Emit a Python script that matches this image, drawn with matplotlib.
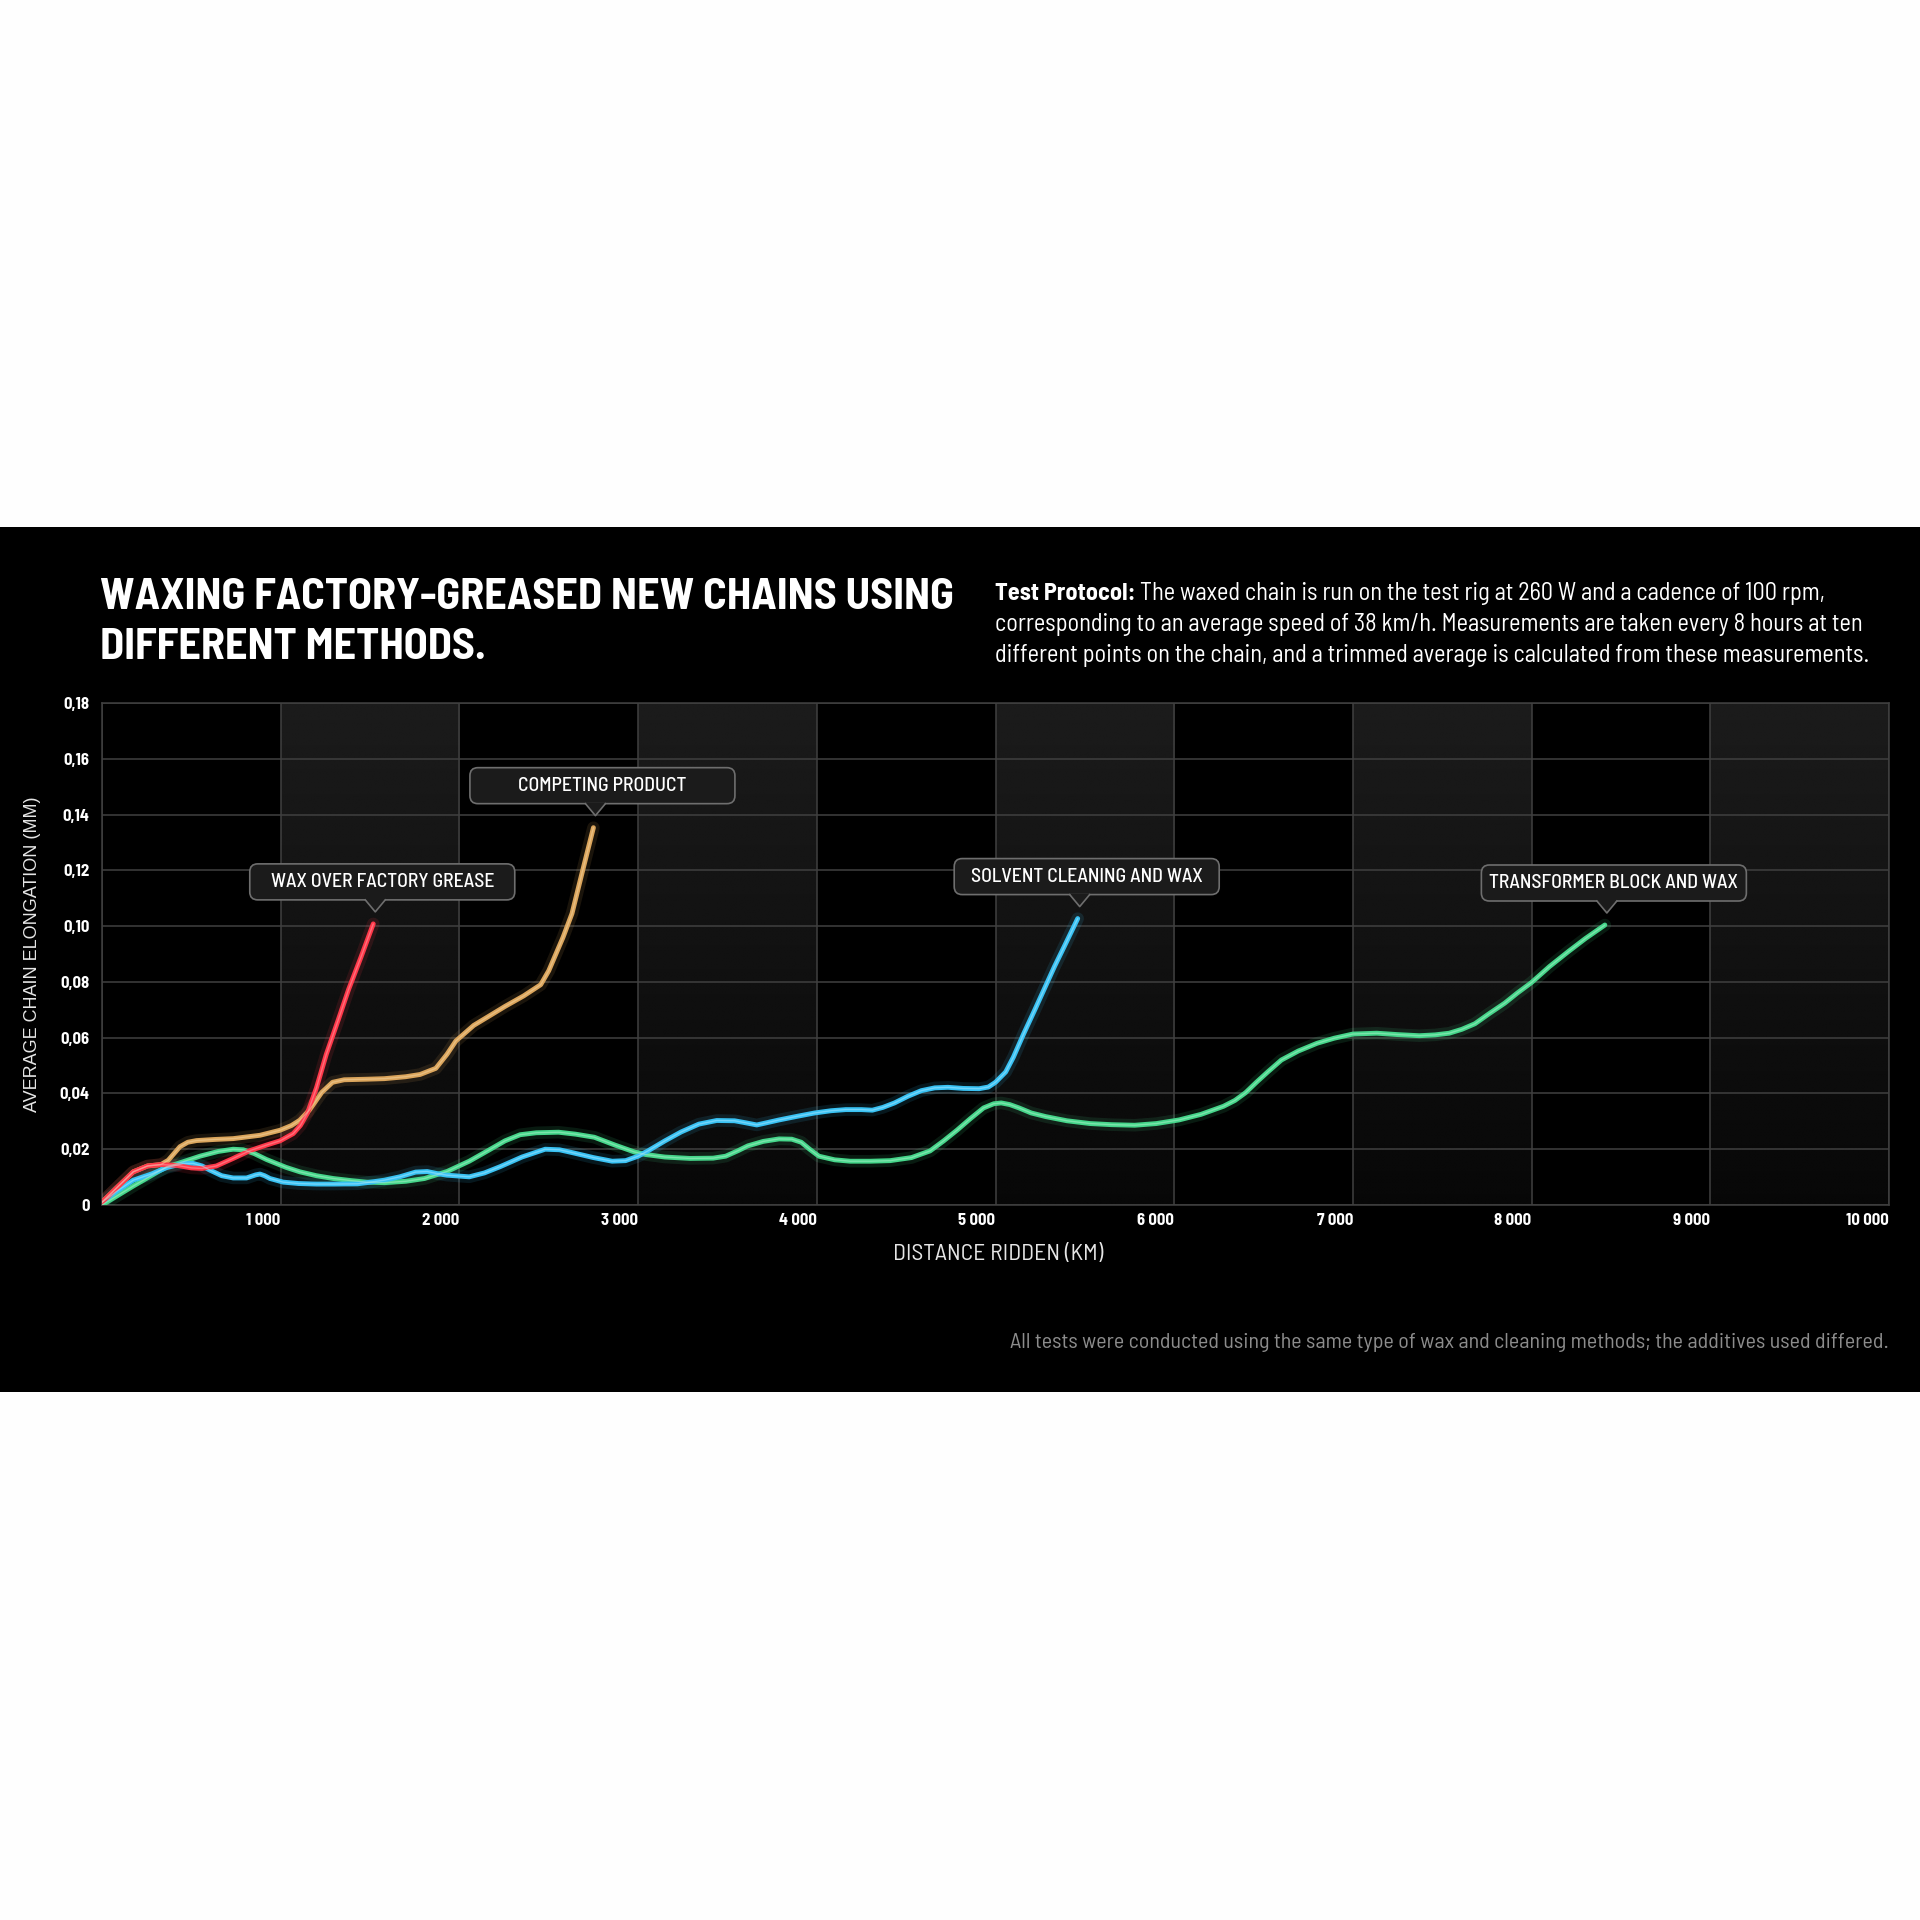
import numpy as np
import matplotlib
matplotlib.use("Agg")
import matplotlib.pyplot as plt
import matplotlib.transforms as mtransforms
from matplotlib.patches import FancyBboxPatch, Polygon, Rectangle
from matplotlib.lines import Line2D

# ---------------- data (km, mm) ----------------
red_x = [0, 80, 175, 255, 330, 420, 500, 560, 640, 734, 828, 921, 996, 1070, 1110, 1150, 1200, 1255, 1320, 1380, 1450, 1518]
red_y = [0.001, 0.006, 0.0119, 0.0140, 0.0145, 0.0142, 0.0133, 0.0131, 0.0140, 0.0167, 0.0195, 0.0215, 0.0230, 0.0256, 0.0285, 0.0330, 0.0420, 0.0540, 0.0660, 0.0773, 0.0890, 0.1008]

orange_x = [0, 80, 175, 255, 330, 370, 436, 480, 529, 630, 734, 884, 996, 1060, 1107, 1160, 1230, 1290, 1355, 1480, 1580, 1700, 1780, 1868, 1930, 1980, 2080, 2160, 2255, 2360, 2455, 2500, 2530, 2580, 2630, 2690, 2750]
orange_y = [0.001, 0.006, 0.0119, 0.0140, 0.0145, 0.0160, 0.0209, 0.0225, 0.0231, 0.0235, 0.0238, 0.0250, 0.0268, 0.0285, 0.0304, 0.0340, 0.0404, 0.0440, 0.0449, 0.0451, 0.0453, 0.0460, 0.0468, 0.0490, 0.0540, 0.0588, 0.0644, 0.0675, 0.0712, 0.0750, 0.0790, 0.0840, 0.0885, 0.0960, 0.1045, 0.1200, 0.1353]

green_x = [0, 175, 361, 430, 548, 650, 734, 790, 850, 921, 1030, 1107, 1200, 1294, 1400, 1480, 1580, 1700, 1805, 1930, 2055, 2160, 2255, 2340, 2430, 2555, 2650, 2755, 2870, 2980, 3042, 3150, 3291, 3420, 3490, 3560, 3614, 3700, 3789, 3860, 3913, 3960, 4012, 4100, 4187, 4300, 4410, 4530, 4634, 4710, 4784, 4860, 4933, 4990, 5032, 5080, 5132, 5200, 5281, 5400, 5530, 5650, 5779, 5900, 6027, 6150, 6276, 6340, 6400, 6460, 6525, 6600, 6694, 6800, 6895, 7000, 7134, 7250, 7372, 7460, 7539, 7610, 7683, 7760, 7850, 7920, 8000, 8100, 8208, 8300, 8410]
green_y = [0.0, 0.0068, 0.0137, 0.0150, 0.0175, 0.0192, 0.0200, 0.0198, 0.0185, 0.0163, 0.0135, 0.0119, 0.0105, 0.0095, 0.0087, 0.0082, 0.0080, 0.0085, 0.0095, 0.0120, 0.0157, 0.0195, 0.0230, 0.0252, 0.0259, 0.0261, 0.0254, 0.0243, 0.0215, 0.0190, 0.0181, 0.0172, 0.0167, 0.0168, 0.0175, 0.0195, 0.0212, 0.0228, 0.0237, 0.0236, 0.0225, 0.0200, 0.0175, 0.0162, 0.0157, 0.0157, 0.0159, 0.0170, 0.0194, 0.0230, 0.0268, 0.0310, 0.0348, 0.0363, 0.0366, 0.0360, 0.0348, 0.0330, 0.0317, 0.0302, 0.0292, 0.0288, 0.0286, 0.0292, 0.0305, 0.0325, 0.0354, 0.0375, 0.0403, 0.0440, 0.0478, 0.0520, 0.0552, 0.0580, 0.0598, 0.0613, 0.0616, 0.0611, 0.0607, 0.0610, 0.0616, 0.0630, 0.0650, 0.0685, 0.0724, 0.0760, 0.0798, 0.0855, 0.0910, 0.0955, 0.1004]

blue_x = [0, 80, 175, 280, 361, 455, 510, 560, 604, 670, 734, 809, 860, 884, 910, 940, 1014, 1100, 1200, 1300, 1430, 1480, 1580, 1666, 1755, 1820, 1880, 1930, 2055, 2140, 2230, 2350, 2480, 2560, 2630, 2750, 2855, 2930, 3000, 3055, 3150, 3241, 3340, 3440, 3540, 3600, 3664, 3720, 3789, 3890, 3988, 4080, 4162, 4250, 4311, 4370, 4435, 4510, 4585, 4660, 4734, 4820, 4908, 4960, 5000, 5057, 5100, 5157, 5220, 5281, 5330, 5381, 5460]
blue_y = [0.001, 0.0048, 0.0089, 0.0112, 0.0134, 0.0149, 0.0149, 0.0140, 0.0125, 0.0105, 0.0097, 0.0097, 0.0108, 0.0111, 0.0105, 0.0095, 0.0082, 0.0077, 0.0075, 0.0075, 0.0076, 0.0080, 0.0089, 0.0101, 0.0118, 0.0120, 0.0112, 0.0107, 0.0101, 0.0115, 0.0138, 0.0172, 0.0200, 0.0198, 0.0188, 0.0170, 0.0157, 0.0159, 0.0175, 0.0194, 0.0230, 0.0262, 0.0290, 0.0303, 0.0302, 0.0295, 0.0287, 0.0295, 0.0305, 0.0318, 0.0330, 0.0338, 0.0342, 0.0342, 0.0340, 0.0350, 0.0366, 0.0390, 0.0410, 0.0420, 0.0422, 0.0418, 0.0417, 0.0423, 0.0440, 0.0477, 0.0530, 0.0613, 0.0700, 0.0786, 0.0855, 0.0922, 0.1027]

series_names = ["TRANSFORMER BLOCK AND WAX", "SOLVENT CLEANING AND WAX", "COMPETING PRODUCT", "WAX OVER FACTORY GREASE"]

x_ticks = [1000, 2000, 3000, 4000, 5000, 6000, 7000, 8000, 9000, 10000]
x_tick_labels = ["1 000", "2 000", "3 000", "4 000", "5 000", "6 000", "7 000", "8 000", "9 000", "10 000"]
y_ticks = [0, 0.02, 0.04, 0.06, 0.08, 0.10, 0.12, 0.14, 0.16, 0.18]
y_tick_labels = ["0", "0,02", "0,04", "0,06", "0,08", "0,10", "0,12", "0,14", "0,16", "0,18"]

# ---------------- figure ----------------
W = H = 1920
DPI = 100
fig = plt.figure(figsize=(W / DPI, H / DPI), dpi=DPI, facecolor="#fefefe")

COND = ["Barlow Semi Condensed", "Roboto Condensed", "DejaVu Sans"]

# black band
fig.add_artist(Rectangle((0, 1 - 1392 / H), 1, (1392 - 527) / H, transform=fig.transFigure,
                         facecolor="black", edgecolor="none", zorder=0))

ax_l, ax_r, ax_t, ax_b = 102, 1889, 703, 1205
ax = fig.add_axes([ax_l / W, 1 - ax_b / H, (ax_r - ax_l) / W, (ax_b - ax_t) / H])
ax.set_facecolor("black")

# shaded columns with vertical gradient
grad = np.linspace(0.03, 0.108, 256).reshape(-1, 1)
for c0 in [1000, 3000, 5000, 7000, 9000]:
    ax.imshow(grad, extent=[c0, c0 + 1000, 0, 0.18], origin="lower", cmap="gray",
              vmin=0, vmax=1, aspect="auto", zorder=0.5, interpolation="bilinear")
ax.set_xlim(0, 10000)
ax.set_ylim(0, 0.18)

grid_c = "#404040"
for xv in [0] + x_ticks:
    ax.axvline(xv, color=grid_c, lw=1.1, zorder=1)
for yv in y_ticks:
    ax.axhline(yv, color=grid_c, lw=1.1, zorder=1)
for s in ax.spines.values():
    s.set_color(grid_c)
    s.set_linewidth(1.1)

ax.tick_params(length=0)
ax.set_xticks(x_ticks, x_tick_labels)
ax.set_yticks(y_ticks, y_tick_labels)
for lab in ax.get_xticklabels():
    lab.set_ha("right")
    lab.set_fontfamily(COND)
    lab.set_fontweight("bold")
    lab.set_fontsize(12)
    lab.set_color("white")
    lab.set_transform(lab.get_transform() + mtransforms.ScaledTranslation(-3 / DPI, 0, fig.dpi_scale_trans))
for lab in ax.get_yticklabels():
    lab.set_fontfamily(COND)
    lab.set_fontweight("bold")
    lab.set_fontsize(12)
    lab.set_color("white")
ax.tick_params(axis="x", pad=6)
ax.tick_params(axis="y", pad=9)

# lines with glow
series = [
    (green_x, green_y, "#45d68a", "#a8f0c8"),
    (blue_x, blue_y, "#38c2f4", "#a6e6ff"),
    (orange_x, orange_y, "#dba55c", "#f3d3a0"),
    (red_x, red_y, "#ff3849", "#ff9aa4"),
]
for xs, ys, col, core in series:
    ax.plot(xs, ys, color=col, lw=9, alpha=0.12, solid_capstyle="round", solid_joinstyle="round", zorder=3)
    ax.plot(xs, ys, color=col, lw=3.5, solid_capstyle="round", solid_joinstyle="round", zorder=4)
    ax.plot(xs, ys, color=core, lw=1.0, alpha=0.55, solid_capstyle="round", solid_joinstyle="round", zorder=5)

# callouts
ends = [(green_x[-1], green_y[-1]), (blue_x[-1], blue_y[-1]), (orange_x[-1], orange_y[-1]), (red_x[-1], red_y[-1])]
fig.canvas.draw()
for name, (ex, ey) in zip(series_names, ends):
    px, py = ax.transData.transform((ex, ey))  # display pixels from bottom
    tip_x, tip_y = px + 2, py + 12
    base_y = tip_y + 12
    bw, bh = 265, 36
    cx = tip_x + 7
    box = FancyBboxPatch(((cx - bw / 2) / W, base_y / H), bw / W, bh / H,
                         boxstyle="round,pad=0,rounding_size=%f" % (8 / W),
                         transform=fig.transFigure, facecolor="#1b1b1b", edgecolor="#6e6e6e",
                         lw=1.2, zorder=10)
    fig.add_artist(box)
    tri = Polygon([((tip_x - 10) / W, (base_y + 1) / H), ((tip_x + 10) / W, (base_y + 1) / H), (tip_x / W, tip_y / H)],
                  closed=True, transform=fig.transFigure, facecolor="#1b1b1b", edgecolor="none", zorder=11)
    fig.add_artist(tri)
    fig.add_artist(Line2D([(tip_x - 10) / W, tip_x / W, (tip_x + 10) / W],
                          [base_y / H, tip_y / H, base_y / H], transform=fig.transFigure,
                          color="#6e6e6e", lw=1.2, zorder=12))
    fig.text(cx / W, (base_y + bh / 2) / H, name, ha="center", va="center", color="white",
             fontsize=14.2, fontweight="medium", family=COND, zorder=13)

# texts
fig.text(100 / W, 1 - 659 / H, "WAXING FACTORY-GREASED NEW CHAINS USING\nDIFFERENT METHODS.",
         ha="left", va="baseline", color="white", fontsize=31.8, fontweight="bold", family=COND, linespacing=1.36)

PS = 17.5
t1 = fig.text(995 / W, 1 - 600 / H, "Test Protocol:", ha="left", va="baseline", color="white",
              fontsize=PS, fontweight="bold", family=COND)
fig.canvas.draw()
bb = t1.get_window_extent()
fig.text((bb.x1 + 5) / W, 1 - 600 / H, "The waxed chain is run on the test rig at 260 W and a cadence of 100 rpm,",
         ha="left", va="baseline", color="white", fontsize=PS, family=COND)
fig.text(995 / W, 1 - 631 / H, "corresponding to an average speed of 38 km/h. Measurements are taken every 8 hours at ten",
         ha="left", va="baseline", color="white", fontsize=PS, family=COND)
fig.text(995 / W, 1 - 662 / H, "different points on the chain, and a trimmed average is calculated from these measurements.",
         ha="left", va="baseline", color="white", fontsize=PS, family=COND)

fig.text(33 / W, 1 - 954 / H, "AVERAGE CHAIN ELONGATION (MM)", rotation=90, ha="center", va="center",
         color="#e6e6e6", fontsize=13, family=["Liberation Sans", "DejaVu Sans"])
fig.text(998 / W, 1 - 1254 / H, "DISTANCE RIDDEN (KM)", ha="center", va="center",
         color="#e6e6e6", fontsize=17, family=COND)
fig.text(1889 / W, 1 - 1348 / H,
         "All tests were conducted using the same type of wax and cleaning methods; the additives used differed.",
         ha="right", va="baseline", color="#8c8c8c", fontsize=15.9, family=COND)

fig.savefig("out.png", dpi=DPI, facecolor=fig.get_facecolor())
